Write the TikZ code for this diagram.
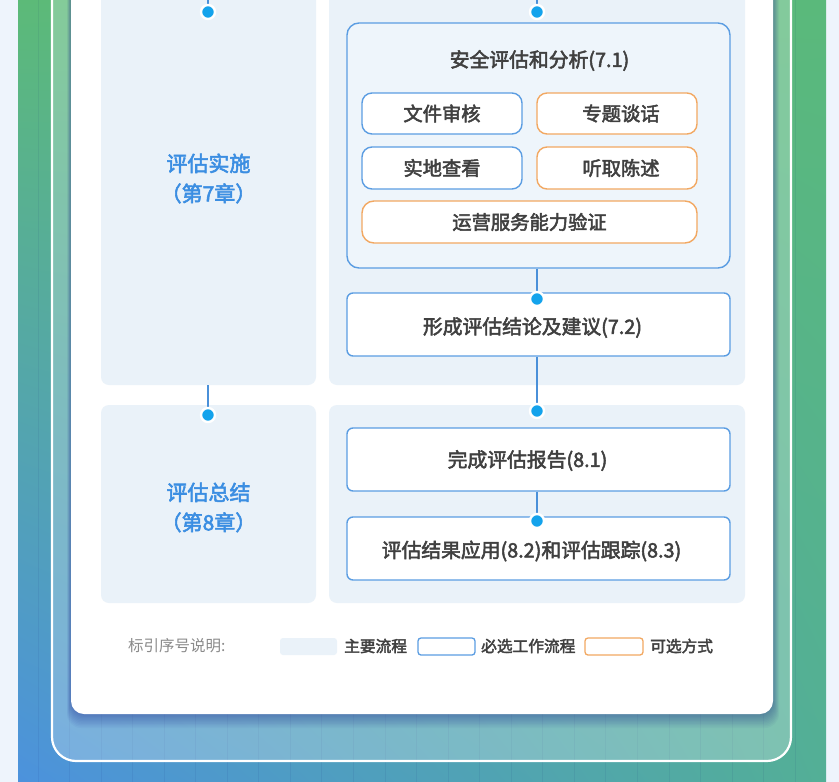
\documentclass[tikz,border=0pt]{standalone}
\usepackage{fontspec}
\usetikzlibrary{shadings}
\setmainfont{Noto Sans CJK SC}
\newfontfamily\medf[FakeBold=2.6]{Noto Sans CJK SC}
\newfontfamily\regf{Noto Sans CJK SC}
\definecolor{pagebg}{HTML}{EEF4FC}
\definecolor{gTL}{HTML}{5CBA78}
\definecolor{gTR}{HTML}{5AB97B}
\definecolor{gBL}{HTML}{4C92DD}
\definecolor{gBR}{HTML}{53AF96}
\definecolor{panel}{HTML}{EAF2F9}
\definecolor{innerc}{HTML}{EEF5FB}
\definecolor{bblue}{HTML}{5B9DE2}
\definecolor{orng}{HTML}{F2A862}
\definecolor{dotc}{HTML}{14A3EC}
\definecolor{linec}{HTML}{4A90D9}
\definecolor{txt}{HTML}{404040}
\definecolor{lbl}{HTML}{3B8EE2}
\definecolor{graytxt}{HTML}{8A8A8A}
\begin{document}
\begin{tikzpicture}[x=1pt,y=-1pt,
  panelbox/.style={fill=panel, rounded corners=8pt, inner sep=0pt},
  bluebox/.style={draw=bblue, line width=1.4pt, fill=white, rounded corners=10pt, inner sep=0pt,
     text=txt, font=\medf\fontsize{19.8}{22}\selectfont},
  subbox/.style={bluebox, font=\medf\fontsize{19.3}{22}\selectfont},
  orangebox/.style={subbox, draw=orng},
  boxtext/.style={text=txt, inner sep=0pt, font=\medf\fontsize{19.8}{22}\selectfont},
  sidelabel/.style={align=center, inner sep=0pt, text=lbl, font=\medf\fontsize{21}{30}\selectfont},
  conn/.style={draw=linec, line width=1.6pt},
  dotnode/.style={circle, fill=dotc, draw=white, line width=2.4pt, minimum size=14pt, inner sep=0pt},
  legtext/.style={anchor=west, inner sep=0pt, text=txt, font=\medf\fontsize{15.7}{18}\selectfont},
  legbox/.style={minimum width=57pt, minimum height=17pt, inner sep=0pt, rounded corners=3pt}
]
\useasboundingbox (0,0) rectangle (839,782);
\clip (0,0) rectangle (839,782);
% background
\fill[pagebg] (0,0) rectangle (839,782);
\shade[upper left=gTL, upper right=gTR, lower left=gBL, lower right=gBR] (18,0) rectangle (826,782);
\foreach \i in {0,...,24} \draw[black!60!blue, opacity=0.06, line width=1pt] ({38+31.55*\i},0) -- ({38+31.55*\i},782);
\fill[white, opacity=0.25, rounded corners=24pt] (52,-40) rectangle (791,761);
\draw[white, line width=2.2pt, rounded corners=24pt] (52,-40) rectangle (791,761);
% card shadow and card
\foreach \k in {1,...,10} \fill[black!50!blue, opacity=0.03, rounded corners=14pt] ({71-0.4*\k},-40) rectangle ({773+0.6*\k},{714+1.4*\k});
\fill[white, rounded corners=13pt] (71,-40) rectangle (773,714);
% panels
\node[panelbox, minimum width=215pt, minimum height=414pt] (p1L) at (208.5,178) {};
\node[panelbox, minimum width=416pt, minimum height=414pt] (p1R) at (537,178) {};
\node[panelbox, minimum width=215pt, minimum height=198pt] (p2L) at (208.5,504) {};
\node[panelbox, minimum width=416pt, minimum height=198pt] (p2R) at (537,504) {};
\node[sidelabel] (lab1) at (208.5,178.5) {评估实施\\（第7章）};
\node[sidelabel] (lab2) at (208.5,507.5) {评估总结\\（第8章）};
% dot positions
\coordinate (topL) at (208,-10);
\coordinate (topR) at (537,-10);
\coordinate (c0L) at (208,12);
\coordinate (c0R) at (537,12);
\coordinate (c1R) at (537,299);
\coordinate (c2L) at (208,415);
\coordinate (c2R) at (537,411);
\coordinate (c3R) at (537,521);
% boxes
\node[bluebox, fill=innerc, rounded corners=12pt, minimum width=383pt, minimum height=245pt] (b71) at (538.5,145.5) {};
\node[boxtext] (t71) at (539.5,60.5) {安全评估和分析(7.1)};
\node[subbox, minimum width=160pt, minimum height=41pt] (s1) at (442,113.5) {文件审核};
\node[orangebox, minimum width=160pt, minimum height=41pt] (s2) at (617,113.5) {\hspace*{8pt}专题谈话};
\node[subbox, minimum width=160pt, minimum height=42pt] (s3) at (442,168) {实地查看};
\node[orangebox, minimum width=160pt, minimum height=42pt] (s4) at (617,168) {\hspace*{8pt}听取陈述};
\node[orangebox, minimum width=335pt, minimum height=42pt, rounded corners=12pt] (s5) at (529.5,222) {运营服务能力验证};
\node[bluebox, rounded corners=6pt, minimum width=383pt, minimum height=63pt] (b72) at (538.5,324.5) {};
\node[boxtext] (t72) at (532.5,327.5) {形成评估结论及建议(7.2)};
\node[bluebox, rounded corners=6pt, minimum width=383pt, minimum height=63pt] (b81) at (538.5,459.5) {};
\node[boxtext] (t81) at (527.5,460.5) {完成评估报告(8.1)};
\node[bluebox, rounded corners=6pt, minimum width=383pt, minimum height=63pt] (b82) at (538.5,548.5) {};
\node[boxtext] (t82) at (531.5,551) {评估结果应用(8.2)和评估跟踪(8.3)};
% connectors
\draw[conn] (topL) -- (c0L);
\draw[conn] (topR) -- (c0R);
\draw[conn] (b71.south -| c1R) -- (c1R);
\draw[conn] (b72.south -| c2R) -- (c2R);
\draw[conn] (p1L.south -| c2L) -- (c2L);
\draw[conn] (b81.south -| c3R) -- (c3R);
% dots
\node[dotnode] (d0L) at (c0L) {};
\node[dotnode] (d0R) at (c0R) {};
\node[dotnode] (d1R) at (c1R) {};
\node[dotnode] (d2L) at (c2L) {};
\node[dotnode] (d2R) at (c2R) {};
\node[dotnode] (d3R) at (c3R) {};
% legend
\node[anchor=west, inner sep=0pt, text=graytxt, font=\regf\fontsize{15.5}{18}\selectfont] (legtitle) at (128,646) {标引序号说明:};
\node[legbox, fill=panel] (lgA) at (308.5,646.5) {};
\node[legtext] (ltA) at (344,646) {主要流程};
\node[legbox, fill=white, draw=bblue, line width=1.3pt] (lgB) at (446.5,646.5) {};
\node[legtext] (ltB) at (481,646) {必选工作流程};
\node[legbox, minimum width=58pt, fill=white, draw=orng, line width=1.3pt] (lgC) at (614,646.5) {};
\node[legtext] (ltC) at (650,646) {可选方式};
\end{tikzpicture}
\end{document}
